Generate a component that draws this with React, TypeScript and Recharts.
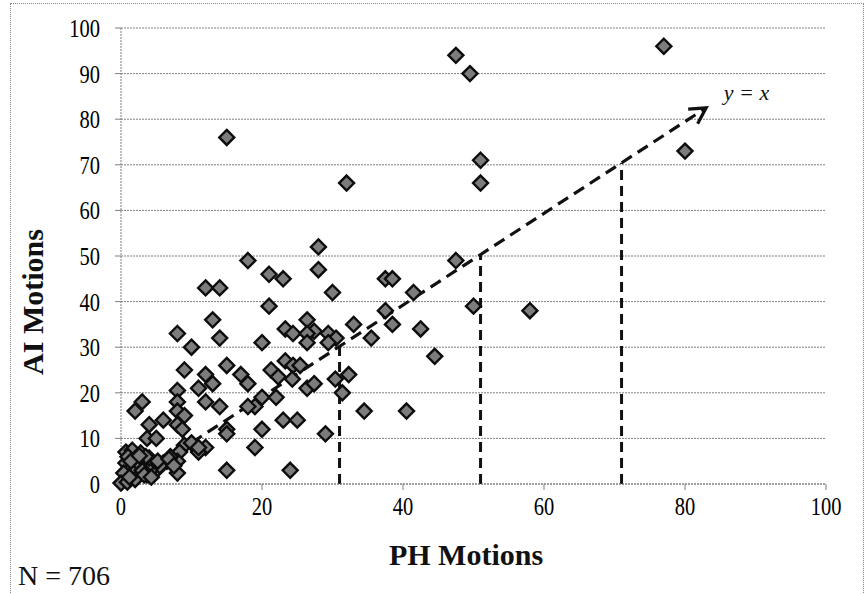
import React from "react";
import {
  CartesianGrid,
  ReferenceDot,
  ReferenceLine,
  Scatter,
  ScatterChart,
  XAxis,
  YAxis,
} from "recharts";

// PH motions (x) vs AI motions (y)
const phMotions = [
  15, 32, 47.5, 49.5, 51, 51, 77, 80, 58, 47.5, 50, 44.5, 40.5, 42.5, 41.5, 37.5, 38.5, 37.5, 38.5, 35.5,
  33, 34.5, 32.3, 30.4, 31.4, 29, 30, 28, 28, 21, 23, 18, 12, 14, 21, 13, 8, 14, 10, 20,
  23.3, 24.4, 26.4, 27.4, 26.4, 26.4, 29.4, 30.5, 29.4,
  21.3, 22.3, 23.3, 24.4, 25.4, 24.3, 26.4, 27.4,
  23, 25, 20, 19, 24, 15,
  15, 9, 12, 13, 11, 17, 18, 8, 12, 14, 20, 19, 18, 22,
  3, 2, 8, 8, 9, 8, 8.7, 4, 6, 3.7, 5, 15, 15, 12, 11,
  9, 8.3, 8, 8, 7, 6, 5, 4.5, 3.6, 3.7,
  0.7, 1.6, 2.8, 4, 0.7, 1.6, 2.8, 1.8, 0.4, 0, 0.9, 2, 1.2, 3, 2.5, 3.5, 10, 11, 6.5, 5.5,
  1, 2.2, 3.3, 4.3, 5.2, 6.8, 7.5, 1.4, 2.6,
];
const aiMotions = [
  76, 66, 94, 90, 71, 66, 96, 73, 38, 49, 39, 28, 16, 34, 42, 45, 45, 38, 35, 32,
  35, 16, 24, 23, 20, 11, 42, 52, 47, 46, 45, 49, 43, 43, 39, 36, 33, 32, 30, 31,
  34, 33, 36, 33.5, 33, 31, 33, 32, 31,
  25, 23.5, 27, 26, 26, 23, 21, 22,
  14, 14, 12, 8, 3, 3,
  26, 25, 24, 22, 21, 24, 22, 20.5, 18, 17, 19, 17, 17, 19,
  18, 16, 18, 16, 15, 13, 12, 13, 14, 10, 10, 12, 11, 8, 7,
  8.5, 7, 5, 2.4, 6, 4.6, 3, 3.5, 3.7, 2,
  7, 7.4, 6.8, 5.7, 4.6, 3.7, 4.6, 2.6, 2.4, 0.2, 0.4, 1, 1.5, 3, 5.5, 6, 9, 8, 5, 4,
  6, 5, 2, 1.5, 5, 5.5, 4, 5, 6.2,
];

const xTicks = [0, 20, 40, 60, 80, 100];
const yTicks = [0, 10, 20, 30, 40, 50, 60, 70, 80, 90, 100];

// y = x guide arrow and the dashed drops
const arrowFrom = { x: 1, y: 0 };
const arrowTo = { x: 83, y: 82.5 };
const dropX = [31, 51, 71];
const dropTop = [30.2, 50.3, 70.4];

const points = phMotions.map((x, i) => ({ x, y: aiMotions[i] }));

const FONT = '"Liberation Serif", Tinos, "Times New Roman", Times, serif';

const Diamond = (props: any) => {
  const { cx, cy } = props;
  const r = 7.5;
  return (
    <polygon
      points={`${cx},${cy - r} ${cx + r},${cy} ${cx},${cy + r} ${cx - r},${cy}`}
      fill="#7c7c7c"
      stroke="#0d0d0d"
      strokeWidth={2.4}
    />
  );
};

const renderXTick = (props: any) => {
  const { x, y, payload } = props;
  return (
    <g transform={`translate(${x},${y})`}>
      <text
        transform="scale(0.82,1)"
        textAnchor="middle"
        dy={21}
        fontFamily={FONT}
        fontSize={25}
        fill="#000"
      >
        {payload.value}
      </text>
    </g>
  );
};

const renderYTick = (props: any) => {
  const { x, y, payload } = props;
  return (
    <g transform={`translate(${x},${y})`}>
      <text
        transform="scale(0.82,1)"
        textAnchor="end"
        dy={9}
        fontFamily={FONT}
        fontSize={25}
        fill="#000"
      >
        {payload.value}
      </text>
    </g>
  );
};

const ArrowShape = (props: any) => {
  const { x1, y1, x2, y2 } = props;
  if (x1 == null) return <g />;
  const ang = Math.atan2(y2 - y1, x2 - x1);
  const L = 18;
  const a = 0.5;
  const hx1 = x2 - L * Math.cos(ang - a);
  const hy1 = y2 - L * Math.sin(ang - a);
  const hx2 = x2 - L * Math.cos(ang + a);
  const hy2 = y2 - L * Math.sin(ang + a);
  return (
    <g>
      <line x1={x1} y1={y1} x2={x2} y2={y2} stroke="#111" strokeWidth={3.2} strokeDasharray="12 7" />
      <polyline
        points={`${hx1},${hy1} ${x2},${y2} ${hx2},${hy2}`}
        fill="none"
        stroke="#111"
        strokeWidth={3.2}
      />
    </g>
  );
};

const EqLabel = (props: any) => (
  <text
    x={props.cx}
    y={props.cy}
    dy={7}
    style={{ fontFamily: FONT, fontStyle: "italic", fontSize: 22 }}
    fill="#111"
  >
    y = x
  </text>
);

export default function App() {
  return (
    <div
      style={{
        position: "absolute",
        left: 0,
        top: 0,
        width: 865,
        height: 594,
        background: "#fff",
        fontFamily: FONT,
        overflow: "hidden",
      }}
    >
      <div
        style={{
          position: "absolute",
          left: 10,
          top: 3,
          width: 852,
          height: 600,
          border: "1px dotted #888",
        }}
      />
      <ScatterChart
        width={865}
        height={594}
        margin={{ top: 28, right: 39, bottom: 80, left: 0 }}
        style={{ position: "absolute", left: 0, top: 0, fontFamily: FONT }}
      >
        <CartesianGrid vertical={false} stroke="#7f7f7f" strokeDasharray="2 1" />
        <XAxis
          type="number"
          dataKey="x"
          domain={[0, 100]}
          ticks={xTicks}
          height={30}
          tickSize={6}
          tickMargin={4}
          axisLine={{ stroke: "#7f7f7f", strokeDasharray: "2 1" }}
          tickLine={{ stroke: "#7f7f7f" }}
          tick={renderXTick}
        />
        <YAxis
          type="number"
          dataKey="y"
          domain={[0, 100]}
          ticks={yTicks}
          width={121}
          tickSize={6}
          tickMargin={15}
          axisLine={{ stroke: "#7f7f7f", strokeDasharray: "2 1" }}
          tickLine={{ stroke: "#7f7f7f" }}
          tick={renderYTick}
        />
        <Scatter data={points} shape={<Diamond />} isAnimationActive={false} />
        {dropX.map((x, i) => (
          <ReferenceLine
            key={x}
            segment={[
              { x, y: 0 },
              { x, y: dropTop[i] },
            ]}
            stroke="#111"
            strokeWidth={3}
            strokeDasharray="10 6"
          />
        ))}
        <ReferenceLine segment={[arrowFrom, arrowTo]} shape={<ArrowShape />} />
        <ReferenceDot x={85.5} y={85.7} r={0} shape={<EqLabel />} />
      </ScatterChart>
      <div
        style={{
          position: "absolute",
          left: 33,
          top: 302,
          transform: "translate(-50%, -50%) rotate(-90deg)",
          fontWeight: "bold",
          fontSize: 30,
          whiteSpace: "nowrap",
          color: "#111",
        }}
      >
        AI Motions
      </div>
      <div
        style={{
          position: "absolute",
          left: 466,
          top: 555,
          transform: "translate(-50%, -50%)",
          fontWeight: "bold",
          fontSize: 30,
          whiteSpace: "nowrap",
          color: "#111",
        }}
      >
        PH Motions
      </div>
      <div
        style={{
          position: "absolute",
          left: 18,
          top: 560,
          fontSize: 28,
          whiteSpace: "nowrap",
          color: "#111",
        }}
      >
        N = 706
      </div>
    </div>
  );
}
